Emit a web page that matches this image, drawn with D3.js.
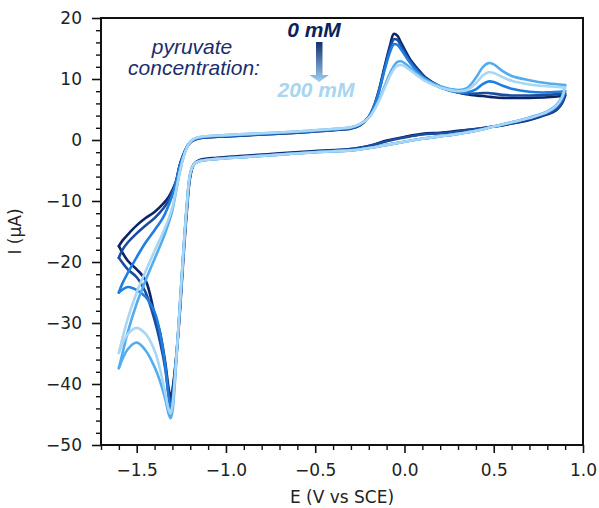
<!DOCTYPE html>
<html>
<head>
<meta charset="utf-8">
<script src="https://cdn.jsdelivr.net/npm/d3@7"></script>
<style>
  body { margin: 0; background: #fff; }
  svg { display: block; }
  .tick text { font-family: "DejaVu Sans", sans-serif; font-size: 17px; fill: #222; }
</style>
</head>
<body>
<svg width="599" height="508"></svg>
<script>
// concentrations (only the ends are labelled in the figure)
var concentrations = ["0 mM", "50 mM", "100 mM", "150 mM", "200 mM"];
var colors = ["#0b2566", "#1a4d9e", "#1f7fe0", "#52acee", "#a8d6f4"];

// cathodic sweep: 0.9 V down to -1.6 V
var cathodicE = [0.9, 0.88, 0.85, 0.8, 0.7, 0.6, 0.5, 0.4, 0.3, 0.2, 0.1, 0.0, -0.1, -0.2, -0.3,
                 -0.5, -0.7, -0.9, -1.05, -1.15, -1.18, -1.2, -1.22, -1.24, -1.26, -1.28, -1.3,
                 -1.31, -1.32, -1.34, -1.37, -1.4, -1.45, -1.5, -1.55, -1.6];
var cathodicI0 = [7.3, 5.9, 4.9, 4.2, 3.3, 2.7, 2.2, 1.8, 1.5, 1.2, 1.0, 0.5, -0.1, -1.0, -1.5,
                  -1.8, -2.2, -2.6, -2.9, -3.3, -4.0, -6.0, -12, -20, -29, -36, -41,
                  -42.3, -41, -36.5, -31.5, -28.5, -23, -21.2, -19.8, -17.4];
var cathodicI1 = [7.6, 6.0, 5.0, 4.3, 3.4, 2.7, 2.2, 1.8, 1.4, 1.1, 0.9, 0.4, -0.2, -1.0, -1.5,
                  -1.9, -2.3, -2.7, -3.0, -3.4, -4.0, -5.8, -11.5, -19.5, -28.5, -36, -41.5,
                  -43, -42, -37.5, -33, -29.5, -25, -22.5, -21.2, -19.3];
var cathodicI2 = [8.0, 6.5, 5.4, 4.5, 3.6, 2.9, 2.2, 1.5, 1.0, 0.6, 0.2, -0.3, -0.8, -1.3, -1.7,
                  -2.0, -2.4, -2.8, -3.1, -3.5, -4.0, -5.5, -11, -19, -28, -36.5, -43,
                  -44, -42.5, -37, -31.5, -28.2, -25.7, -24.6, -24.1, -25.0];
var cathodicI3 = [9.0, 7.0, 5.7, 4.7, 3.7, 2.9, 2.2, 1.5, 1.0, 0.6, 0.2, -0.3, -0.8, -1.3, -1.7,
                  -2.0, -2.4, -2.8, -3.1, -3.5, -4.0, -5.5, -11, -19, -28, -37, -44.5,
                  -45.6, -45, -42.5, -39.5, -37.2, -34.5, -33.2, -34.3, -37.4];
var cathodicI4 = [8.6, 6.8, 5.6, 4.6, 3.6, 2.9, 2.2, 1.5, 1.0, 0.6, 0.2, -0.3, -0.8, -1.3, -1.7,
                  -2.0, -2.4, -2.8, -3.1, -3.5, -4.0, -5.5, -11, -19, -28, -36.5, -43.5,
                  -44.8, -44.3, -41.5, -37.5, -34.5, -31.8, -30.8, -31.8, -34.9];

// anodic sweep: -1.6 V back up to 0.9 V
var anodicE = [-1.6, -1.58, -1.55, -1.5, -1.45, -1.4, -1.35, -1.32, -1.3, -1.28, -1.26, -1.24, -1.22,
               -1.2, -1.17, -1.12, -1.0, -0.8, -0.6, -0.4, -0.3, -0.25, -0.2, -0.17, -0.14, -0.11,
               -0.08, -0.06, -0.04, -0.02, 0.0, 0.03, 0.07, 0.12, 0.2, 0.3, 0.35, 0.4, 0.44, 0.47,
               0.5, 0.55, 0.6, 0.7, 0.8, 0.9];
var anodicI0 = [-17.4, -16.5, -15.5, -14.0, -12.8, -11.8, -10.4, -9.3, -8.2, -6.8, -4.2, -2.5, -1.2,
                -0.4, 0.1, 0.4, 0.6, 0.9, 1.2, 1.6, 1.9, 2.4, 3.8, 5.6, 8.5, 12.2,
                15.6, 17.4, 17.1, 16.0, 14.9, 13.3, 11.8, 10.2, 8.8, 7.8, 7.5, 7.3, 7.2, 7.1,
                7.0, 6.9, 6.9, 6.9, 7.0, 7.3];
var anodicI1 = [-19.3, -18.0, -16.8, -15.3, -14.0, -12.8, -11.2, -9.8, -8.5, -6.9, -4.3, -2.5, -1.2,
                -0.4, 0.1, 0.4, 0.6, 0.9, 1.2, 1.6, 1.9, 2.4, 3.8, 5.6, 8.4, 12.0,
                15.1, 16.5, 16.4, 15.5, 14.5, 13.0, 11.6, 10.1, 8.7, 7.8, 7.6, 7.6, 7.7, 7.7,
                7.6, 7.4, 7.3, 7.3, 7.4, 7.6];
var anodicI2 = [-25.0, -23.5, -21.8, -19.2, -16.8, -14.8, -12.6, -10.6, -9.0, -7.0, -4.4, -2.6, -1.2,
                -0.3, 0.2, 0.5, 0.7, 1.0, 1.3, 1.7, 2.0, 2.5, 3.8, 5.5, 8.2, 11.6,
                14.5, 15.7, 15.6, 14.9, 14.0, 12.7, 11.3, 9.9, 8.6, 7.8, 7.8, 8.3, 9.2, 9.6,
                9.5, 8.9, 8.4, 7.9, 7.8, 8.0];
var anodicI3 = [-37.4, -35.0, -31.5, -26.8, -23.0, -19.5, -16.0, -13.5, -11.5, -8.5, -5.5, -3.0, -1.3,
                -0.3, 0.3, 0.6, 0.8, 1.1, 1.4, 1.8, 2.1, 2.6, 3.7, 5.0, 6.8, 8.9,
                11.0, 12.1, 12.8, 12.9, 12.6, 11.9, 10.9, 9.9, 8.8, 8.2, 8.5, 10.2, 12.0, 12.6,
                12.4, 11.3, 10.5, 9.8, 9.3, 9.0];
var anodicI4 = [-34.9, -32.5, -29.3, -25.0, -21.5, -18.2, -15.0, -12.8, -11.0, -8.3, -5.4, -3.0, -1.3,
                -0.3, 0.3, 0.6, 0.8, 1.1, 1.4, 1.8, 2.1, 2.6, 3.6, 4.9, 6.6, 8.6,
                10.6, 11.6, 12.2, 12.3, 12.1, 11.5, 10.6, 9.6, 8.6, 8.0, 8.2, 9.3, 10.6, 11.1,
                11.0, 10.3, 9.7, 9.1, 8.8, 8.6];

var cathodicI = [cathodicI0, cathodicI1, cathodicI2, cathodicI3, cathodicI4];
var anodicI = [anodicI0, anodicI1, anodicI2, anodicI3, anodicI4];

var xTicks = [-1.5, -1.0, -0.5, 0.0, 0.5, 1.0];
var yTicks = [-50, -40, -30, -20, -10, 0, 10, 20];

var padL = 101, padR = 583, padT = 18, padB = 445;

var xScale = d3.scaleLinear().domain([-1.7, 1.0]).range([padL, padR]);
var yScale = d3.scaleLinear().domain([-50, 20]).range([padB, padT]);

var svg = d3.select("svg");

var line = d3.line()
    .x(d => xScale(d[0]))
    .y(d => yScale(d[1]))
    .curve(d3.curveCatmullRom.alpha(0.5));

var plot = svg.append("g");
concentrations.forEach(function (c, k) {
    var cath = cathodicE.map((e, i) => [e, cathodicI[k][i]]);
    var anod = anodicE.map((e, i) => [e, anodicI[k][i]]);
    [cath, anod].forEach(function (pts) {
        plot.append("path")
            .attr("d", line(pts))
            .attr("fill", "none")
            .attr("stroke", colors[k])
            .attr("stroke-width", 2.6)
            .attr("stroke-linecap", "round")
            .attr("stroke-linejoin", "round");
    });
});

// minor ticks
var xMinor = d3.range(-17, 11).map(v => v / 10).filter(v => xTicks.indexOf(v) < 0);
var yMinor = d3.range(-50, 21, 2).filter(v => v % 10 !== 0);

var xAxis = d3.axisBottom(xScale).tickValues(xTicks).tickFormat(d3.format(".1f"))
    .tickSize(8).tickPadding(11).tickSizeOuter(0);
var yAxis = d3.axisLeft(yScale).tickValues(yTicks).tickFormat(d3.format("d"))
    .tickSize(9).tickPadding(10).tickSizeOuter(0);

svg.append("g").attr("transform", "translate(0," + padB + ")")
    .call(d3.axisBottom(xScale).tickValues(xMinor).tickFormat("").tickSize(5).tickSizeOuter(0))
    .call(g => g.select(".domain").remove())
    .selectAll("line").attr("stroke", "#111").attr("stroke-width", 1.4);
svg.append("g").attr("transform", "translate(" + padL + ",0)")
    .call(d3.axisLeft(yScale).tickValues(yMinor).tickFormat("").tickSize(5).tickSizeOuter(0))
    .call(g => g.select(".domain").remove())
    .selectAll("line").attr("stroke", "#111").attr("stroke-width", 1.4);

var gx = svg.append("g").attr("transform", "translate(0," + padB + ")").call(xAxis);
var gy = svg.append("g").attr("transform", "translate(" + padL + ",0)").call(yAxis);
[gx, gy].forEach(function (g) {
    g.select(".domain").remove();
    g.selectAll(".tick line").attr("stroke", "#111").attr("stroke-width", 1.6);
});

// frame
svg.append("rect")
    .attr("x", padL).attr("y", padT)
    .attr("width", padR - padL).attr("height", padB - padT)
    .attr("fill", "none").attr("stroke", "#111").attr("stroke-width", 2);

// axis labels
svg.append("text")
    .attr("x", (padL + padR) / 2).attr("y", 503)
    .attr("text-anchor", "middle")
    .style("font-family", "DejaVu Sans").style("font-size", "17px").attr("fill", "#222")
    .text("E (V vs SCE)");
svg.append("text")
    .attr("transform", "rotate(-90)")
    .attr("x", -(padT + padB) / 2).attr("y", 21)
    .attr("text-anchor", "middle")
    .style("font-family", "DejaVu Sans").style("font-size", "17px").attr("fill", "#222")
    .text("I (μA)");

// annotation
var ann = svg.append("g").style("font-family", "'Liberation Sans', Arial, sans-serif");
ann.append("text").attr("x", 192).attr("y", 54).attr("text-anchor", "middle")
    .style("font-size", "21px").style("font-style", "italic").attr("fill", "#1c2d6b")
    .text("pyruvate");
ann.append("text").attr("x", 194).attr("y", 75).attr("text-anchor", "middle")
    .style("font-size", "21px").style("font-style", "italic").attr("fill", "#1c2d6b")
    .text("concentration:");
ann.append("text").attr("x", 314).attr("y", 37).attr("text-anchor", "middle")
    .style("font-size", "21px").style("font-style", "italic").style("font-weight", "bold")
    .attr("fill", "#0c1f5c").text(concentrations[0]);
ann.append("text").attr("x", 316).attr("y", 97).attr("text-anchor", "middle")
    .style("font-size", "21px").style("font-style", "italic").style("font-weight", "bold")
    .attr("fill", "#a8d5f0").text(concentrations[4]);

var grad = svg.append("defs").append("linearGradient")
    .attr("id", "arrowGrad").attr("x1", 0).attr("y1", 0).attr("x2", 0).attr("y2", 1);
grad.append("stop").attr("offset", "0%").attr("stop-color", "#142f72");
grad.append("stop").attr("offset", "100%").attr("stop-color", "#9fd0f0");
ann.append("path")
    .attr("d", "M316,42 L322.5,42 L322.5,75 L329,75 L319.2,82 L309.5,75 L316,75 Z")
    .attr("fill", "url(#arrowGrad)");
</script>
</body>
</html>
